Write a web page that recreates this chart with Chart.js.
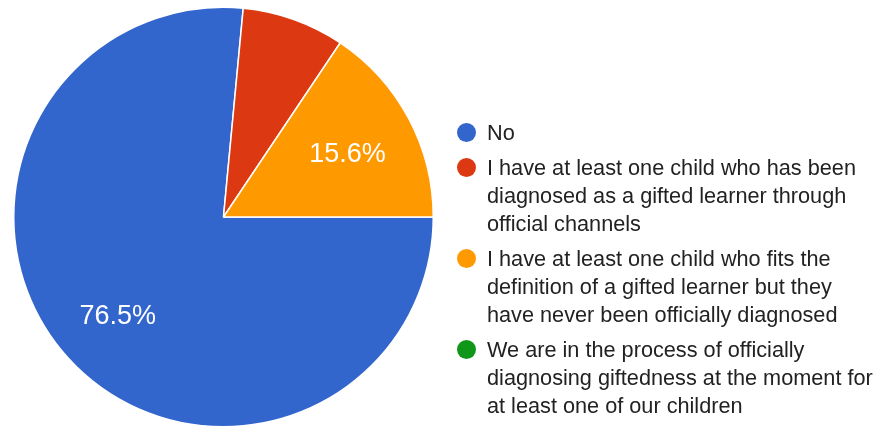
<!DOCTYPE html>
<html>
<head>
<meta charset="utf-8">
<script src="https://cdn.jsdelivr.net/npm/chart.js@4.4.1/dist/chart.umd.min.js"></script>
<style>
  body { margin: 0; background: #fff; }
  #wrap { width: 877px; height: 430px; }
</style>
</head>
<body>
<div id="wrap"><canvas id="pieChart" width="877" height="430"></canvas></div>
<script>
// Answers, one array of legend lines per slice
const categories = [
  ['No'],
  ['I have at least one child who has been', 'diagnosed as a gifted learner through', 'official channels'],
  ['I have at least one child who fits the', 'definition of a gifted learner but they', 'have never been officially diagnosed'],
  ['We are in the process of officially', 'diagnosing giftedness at the moment for', 'at least one of our children'],
];
// Share of responses (%)
const shares = [76.5, 7.9, 15.6, 0];
const colors = ['#3366cc', '#dc3912', '#ff9900', '#109618'];

const fontFamily = '"Liberation Sans", Arial, sans-serif';

// Percent labels inside the big slices
const sliceLabels = {
  id: 'sliceLabels',
  afterDatasetsDraw(chart) {
    const ctx = chart.ctx;
    const meta = chart.getDatasetMeta(0);
    const total = shares.reduce((a, b) => a + b, 0);
    ctx.save();
    ctx.font = '27px ' + fontFamily;
    ctx.fillStyle = '#ffffff';
    ctx.textAlign = 'center';
    ctx.textBaseline = 'middle';
    meta.data.forEach((arc, i) => {
      const pct = shares[i] / total * 100;
      if (pct < 10) return;
      const mid = (arc.startAngle + arc.endAngle) / 2;
      const r = arc.outerRadius * 0.675;
      ctx.fillText(pct.toFixed(1) + '%', arc.x + Math.cos(mid) * r - 1, arc.y + Math.sin(mid) * r + 4);
    });
    ctx.restore();
  }
};

// Legend on the right with wrapped lines
const sideLegend = {
  id: 'sideLegend',
  afterDraw(chart) {
    const ctx = chart.ctx;
    const lineHeight = 28;
    let y = 132.5;
    ctx.save();
    ctx.font = '21.7px ' + fontFamily;
    ctx.textBaseline = 'middle';
    categories.forEach((lines, i) => {
      ctx.fillStyle = colors[i];
      ctx.beginPath();
      ctx.arc(466.5, y, 9.5, 0, Math.PI * 2);
      ctx.fill();
      ctx.fillStyle = '#222222';
      lines.forEach((t, j) => ctx.fillText(t, 487, y + 1.5 + j * lineHeight));
      y += (lines.length - 1) * lineHeight + 35;
    });
    ctx.restore();
  }
};

new Chart(document.getElementById('pieChart'), {
  type: 'pie',
  data: {
    labels: categories.map(l => l.join(' ')),
    datasets: [{
      data: shares,
      backgroundColor: colors,
      borderColor: '#ffffff',
      borderWidth: 1.5,
    }],
  },
  options: {
    responsive: false,
    animation: false,
    rotation: 90,
    layout: { padding: { left: 13, top: 6, right: 443, bottom: 2 } },
    plugins: {
      legend: { display: false },
      tooltip: { enabled: false },
    },
  },
  plugins: [sliceLabels, sideLegend],
});
</script>
</body>
</html>
